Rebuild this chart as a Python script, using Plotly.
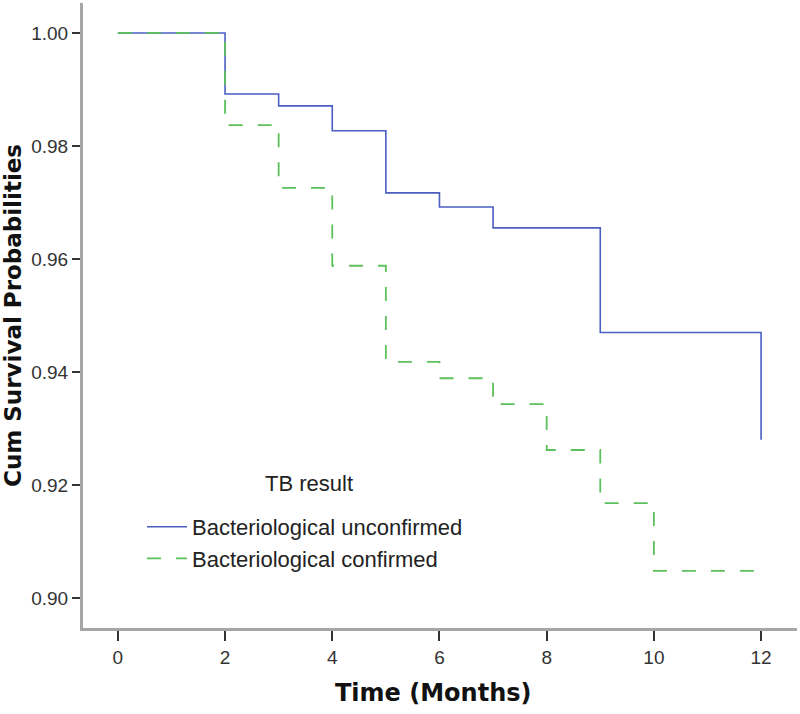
import plotly.graph_objects as go

# Data
months_unconf = [0, 2, 3, 4, 5, 6, 7, 9, 12]
surv_unconf = [1.000, 0.9892, 0.9871, 0.9827, 0.9717, 0.9692, 0.9655, 0.9470, 0.9280]

months_conf = [0, 2, 3, 4, 5, 6, 7, 8, 9, 10, 12]
surv_conf = [1.000, 0.9837, 0.9726, 0.9588, 0.9418, 0.9389, 0.9343, 0.9262, 0.9168, 0.9048, 0.9048]

x_ticks = [0, 2, 4, 6, 8, 10, 12]
y_ticks = [0.90, 0.92, 0.94, 0.96, 0.98, 1.00]
y_tick_labels = ["0.90", "0.92", "0.94", "0.96", "0.98", "1.00"]

BLUE = "#4a5fc1"
GREEN = "#5cc05c"
FONT = "Liberation Sans, Arial, sans-serif"
BOLD_FONT = "DejaVu Sans, Verdana, sans-serif"

W, H = 800, 714
ML, MR, MT, MB = 83, 3, 3, 86
PW, PH = W - ML - MR, H - MT - MB


def px_x(px):
    return (px - ML) / PW


def px_y(py):
    return (H - MB - py) / PH


fig = go.Figure()
fig.add_trace(go.Scatter(
    x=months_unconf, y=surv_unconf, mode="lines", line_shape="hv",
    line=dict(color=BLUE, width=1.6),
    name="Bacteriological unconfirmed",
))
fig.add_trace(go.Scatter(
    x=months_conf, y=surv_conf, mode="lines", line_shape="hv",
    line=dict(color=GREEN, width=1.8, dash="14px,15px"),
    name="Bacteriological confirmed",
))

fig.update_layout(
    width=W, height=H,
    margin=dict(l=ML, r=MR, t=MT, b=MB, autoexpand=False),
    paper_bgcolor="white", plot_bgcolor="white",
    font=dict(family=FONT, color="#333333"),
    showlegend=True,
    legend=dict(
        x=px_x(142), y=px_y(506), xanchor="left", yanchor="top",
        bgcolor="rgba(0,0,0,0)",
        font=dict(size=22, family=FONT, color="#222222"),
        tracegroupgap=0, itemwidth=40,
    ),
    xaxis=dict(
        range=[-0.65, 12.67], tickvals=x_ticks, ticktext=[str(t) for t in x_ticks],
        showgrid=False, zeroline=False, automargin=False,
        showline=True, linecolor="#a6a6a6", linewidth=3,
        ticks="outside", ticklen=10, tickwidth=2, tickcolor="#333333",
        tickfont=dict(size=19, family=FONT, color="#333333"),
    ),
    yaxis=dict(
        range=[0.8947, 1.0053], tickvals=y_ticks, ticktext=y_tick_labels,
        showgrid=False, zeroline=False, automargin=False,
        showline=True, linecolor="#a6a6a6", linewidth=3,
        ticks="outside", ticklen=8, tickwidth=2, tickcolor="#333333",
        tickfont=dict(size=19, family=FONT, color="#333333"),
    ),
    annotations=[
        dict(text="<b>Time (Months)</b>", xref="paper", yref="paper",
             x=px_x(433), y=px_y(693), xanchor="center", yanchor="middle",
             showarrow=False, font=dict(size=24, family=BOLD_FONT, color="#111111")),
        dict(text="<b>Cum Survival Probabilities</b>", xref="paper", yref="paper",
             x=px_x(13), y=px_y(316), xanchor="center", yanchor="middle", textangle=-90,
             showarrow=False, font=dict(size=23, family=BOLD_FONT, color="#111111")),
        dict(text="TB result", xref="paper", yref="paper",
             x=px_x(309), y=px_y(483), xanchor="center", yanchor="middle",
             showarrow=False, font=dict(size=22, family=FONT, color="#222222")),
    ],
)

fig.write_html("out.html", config={"displayModeBar": False},
               post_script="document.body.style.margin='0';")
